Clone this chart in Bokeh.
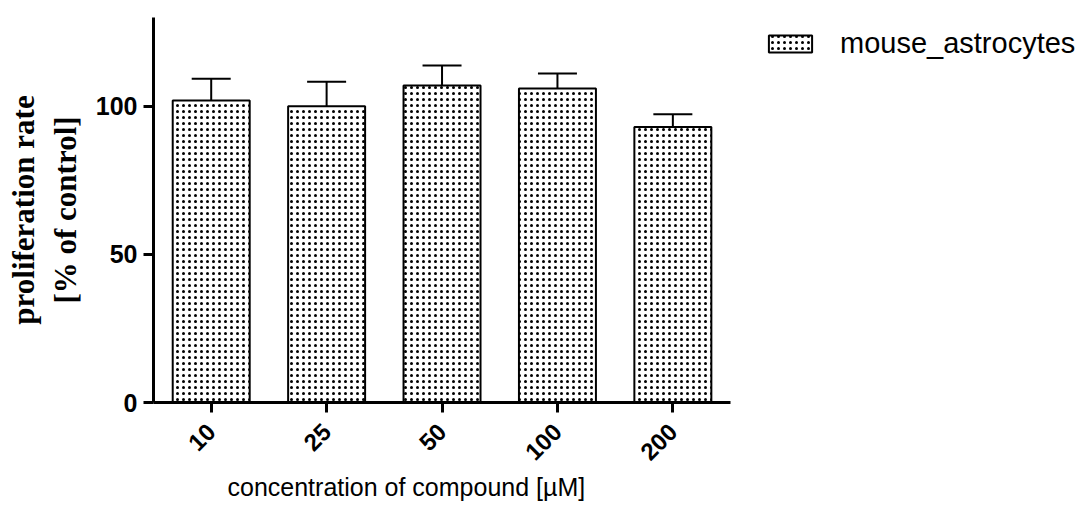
import math
from bokeh.plotting import figure
from bokeh.models import (ColumnDataSource, Range1d, Whisker, TeeHead,
                          Legend, LegendItem, FixedTicker, Title)
from bokeh.embed import file_html
from bokeh.resources import INLINE

categories = ["10", "25", "50", "100", "200"]
values = [102, 100, 107, 106, 93]
errors = [7.3, 8.3, 6.8, 5.1, 4.3]
y_ticks = [0, 50, 100]
series_name = "mouse_astrocytes"
x_title = "concentration of compound [µM]"
y_title = "proliferation rate\n[% of control]"

xpos = [i + 0.5 for i in range(len(categories))]
upper = [v + e for v, e in zip(values, errors)]
src = ColumnDataSource(dict(x=xpos, top=values, upper=upper))

p = figure(width=1089, height=514, output_backend="svg", toolbar_location=None,
           x_range=Range1d(0, 8.11), y_range=Range1d(0, 130),
           min_border_left=153, min_border_right=0,
           min_border_top=17, min_border_bottom=112)
p.outline_line_color = None
p.grid.visible = False
p.background_fill_color = "white"

bars = p.vbar(x="x", top="top", width=0.667, source=src,
              fill_color="white", line_color="black", line_width=2,
              hatch_pattern="dot", hatch_color="black", hatch_scale=6,
              hatch_weight=2)

w = Whisker(base="x", lower="top", upper="upper", source=src,
            line_color="black", line_width=2,
            upper_head=TeeHead(size=39, line_width=2, line_color="black"),
            lower_head=None)
p.add_layout(w)

for ax in (p.xaxis[0], p.yaxis[0]):
    ax.axis_line_width = 3
    ax.axis_line_color = "black"
    ax.major_tick_line_width = 3
    ax.major_tick_line_color = "black"
    ax.major_tick_out = 10
    ax.major_tick_in = 0
    ax.minor_tick_line_color = None
    ax.major_label_text_font = "Liberation Sans"
    ax.major_label_text_font_style = "bold"
    ax.major_label_text_font_size = "25px"
    ax.major_label_text_color = "black"
    ax.axis_label_text_color = "black"

p.yaxis.ticker = FixedTicker(ticks=y_ticks)
p.yaxis.major_label_standoff = 6
p.yaxis.axis_label = y_title
p.yaxis.axis_label_text_font = "Liberation Serif"
p.yaxis.axis_label_text_font_style = "bold"
p.yaxis.axis_label_text_font_size = "31px"
p.yaxis.axis_label_standoff = 10

p.xaxis.bounds = (0, len(categories))
p.xaxis.ticker = FixedTicker(ticks=xpos)
p.xaxis.major_label_overrides = {x: c for x, c in zip(xpos, categories)}
p.xaxis.major_label_orientation = math.pi / 4
p.xaxis.major_label_text_font_size = "24px"
p.xaxis.major_label_standoff = 15

p.add_layout(Title(text=x_title, align="left", offset=74, standoff=0,
                   text_font="Liberation Sans", text_font_style="normal",
                   text_font_size="25px", text_color="black"), "below")

legend = Legend(items=[LegendItem(label=series_name, renderers=[bars])],
                location=(610, 342), margin=0, padding=10,
                border_line_color=None, background_fill_alpha=0,
                glyph_width=54, glyph_height=21, label_standoff=23,
                label_text_font="Liberation Sans", label_text_font_size="29px",
                label_text_color="black")
p.add_layout(legend)

open("out.html", "w").write(file_html(p, INLINE))
